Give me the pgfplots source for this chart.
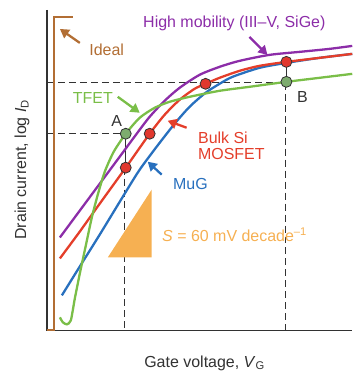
\documentclass[border=0pt]{standalone}
\usepackage{pgfplots}
\pgfplotsset{compat=1.18}
\usepackage{fontspec}
\setmainfont{Liberation Sans}
\usetikzlibrary{arrows.meta}
\definecolor{cbrown}{RGB}{178,110,52}
\definecolor{cpurple}{RGB}{140,45,168}
\definecolor{cred}{RGB}{228,62,42}
\definecolor{cblue}{RGB}{40,112,190}
\definecolor{cgreen}{RGB}{122,190,72}
\definecolor{corange}{RGB}{246,176,82}
\definecolor{cdark}{RGB}{50,50,50}
\definecolor{cgfill}{RGB}{125,172,110}
\definecolor{crfill}{RGB}{225,55,45}
\newcommand{\lf}{\fontsize{16}{17.5}\selectfont}
\begin{document}
\begin{tikzpicture}
\begin{axis}[
  hide axis, scale only axis, width=353pt, height=374pt,
  xmin=0, xmax=353, ymin=0, ymax=374, y dir=reverse,
  clip=false,
]
\addplot[draw=none] coordinates {(0,0) (353,374)};
% axes
\addplot[cdark, line width=1.4pt] coordinates {(47,10) (47,331) (353,331)};
% dashed guides
\addplot[cdark, line width=1.1pt, dash pattern=on 7pt off 4pt] coordinates {(47,83) (287,83)};
\addplot[cdark, line width=1.1pt, dash pattern=on 7pt off 4pt] coordinates {(47,134) (126,134)};
\addplot[cdark, line width=1.1pt, dash pattern=on 7pt off 4pt] coordinates {(125,168) (125,331)};
\addplot[cdark, line width=1.1pt, dash pattern=on 7pt off 4pt] coordinates {(286,83) (286,331)};
\addplot[cdark, line width=1.1pt] coordinates {(126,134) (126,168)};
\addplot[cdark, line width=1.1pt] coordinates {(287,62) (287,82)};
% slope triangle
\addplot[fill=corange, draw=none] coordinates {(108,258) (152,258) (152,190)} -- cycle;
% ideal
\addplot[cbrown, line width=2.3pt] coordinates {(47,331) (54,331) (54,17) (73,17)};
% MuG
\addplot[cblue, line width=2.3pt, smooth, tension=0.45] coordinates {
 (62,296) (80,267) (100,235) (125,194) (140,170) (157,147) (175,124) (190,107) (206,93) (220,84) (233,77) (260,68) (287,63) (320,58) (353,54)};
% bulk Si
\addplot[cred, line width=2.3pt, smooth, tension=0.45] coordinates {
 (60,259) (80,232) (100,204) (126,168) (150,134) (165,115) (180,100) (195,89) (206,84) (220,78) (240,71) (260,66) (287,62) (320,58) (353,54)};
% high mobility
\addplot[cpurple, line width=2.3pt, smooth, tension=0.45] coordinates {
 (60,238) (80,211) (100,184) (120,157) (137,134) (150,117) (165,101) (180,88) (200,75) (220,67) (240,61) (270,55) (300,52) (330,49) (353,46)};
% TFET
\addplot[cgreen, line width=2.3pt, smooth, tension=0.4] coordinates {
 (60,318) (63,323) (67,325) (71,321) (75,299) (80,274) (86,246) (92,218) (98,195) (105,172) (114,152) (126,134) (140,118) (155,108) (170,102) (190,97) (220,91) (250,87) (287,82) (320,78) (353,74)};
% points
\addplot[only marks, mark=*, mark size=5.5pt, mark options={fill=crfill, draw=cdark, line width=0.8pt}] coordinates {(150,134) (126,168) (206,84) (287,62)};
\addplot[only marks, mark=*, mark size=5.5pt, mark options={fill=cgfill, draw=cdark, line width=0.8pt}] coordinates {(126,134) (287,82)};
% arrows
\addplot[cbrown, line width=2.3pt, -{Triangle[length=9pt,width=10pt]}] coordinates {(80,43) (60,29)};
\addplot[cgreen, line width=2.3pt, -{Triangle[length=9pt,width=10pt]}] coordinates {(118,97) (140,113)};
\addplot[cpurple, line width=2.3pt, -{Triangle[length=9pt,width=10pt]}] coordinates {(250,37) (268,55)};
\addplot[cred, line width=2.3pt, -{Triangle[length=9pt,width=10pt]}] coordinates {(187,128) (168,121)};
\addplot[cblue, line width=2.3pt, -{Triangle[length=9pt,width=10pt]}] coordinates {(162,175) (148,162)};
% labels
\node[cpurple, anchor=west, font=\lf] at (axis cs:140,23) {High mobility (III--V, SiGe)};
\node[cbrown, anchor=west, font=\lf] at (axis cs:86,50) {Ideal};
\node[cgreen, font=\lf] at (axis cs:93,98) {TFET};
\node[cdark, font=\lf] at (axis cs:117,121) {A};
\node[cdark, font=\lf] at (axis cs:303,97) {B};
\node[cred, anchor=west, align=left, font=\lf] at (axis cs:195,146) {Bulk Si\\[-1pt]MOSFET};
\node[cblue, anchor=west, font=\lf] at (axis cs:170,184) {MuG};
\node[corange, anchor=west, font=\lf] at (axis cs:159,235) {\textit{S} = 60 mV decade\textsuperscript{--1}};
\node[cdark, font=\lf] at (axis cs:205,364) {Gate voltage, \textit{V}\textsubscript{G}};
\node[cdark, rotate=90, font=\lf] at (axis cs:22,170) {Drain current, log \textit{I}\textsubscript{D}};
\end{axis}
\end{tikzpicture}
\end{document}
